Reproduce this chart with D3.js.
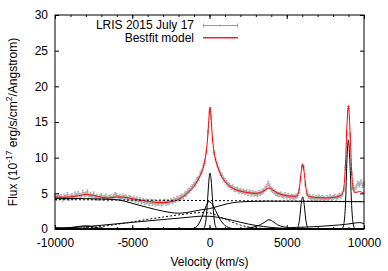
<!DOCTYPE html>
<html>
<head>
<meta charset="utf-8">
<style>
  body { margin: 0; background: #fff; }
  svg { font-family: "Liberation Sans", Arial, sans-serif; font-size: 12px; }
  .comp { fill: none; stroke: #000; stroke-width: 1; }
  .dotted { stroke-dasharray: 2,2; }
  .axis text { fill: #000; }
  .axis line { stroke: #000; }
</style>
</head>
<body>
<script src="https://cdn.jsdelivr.net/npm/d3@7"></script>
<script>
// observed spectrum, sampled every 100 km/s from -10000 km/s
var dataV0 = -10000, dataStep = 100, dataErr = 0.3;
var dataFlux = [
  4.6, 4.3, 4.7, 4.4, 4.5, 4.2, 4.6, 4.4, 4.8, 4.3,   // -10000
  4.5, 4.7, 4.4, 4.9, 4.6, 5.0, 4.7, 4.6, 5.1, 4.8,   // -9000
  4.9, 5.2, 4.6, 4.8, 4.5, 4.9, 4.4, 4.6, 4.3, 4.5,   // -8000
  4.7, 4.3, 4.4, 4.6, 4.2, 4.4, 4.5, 4.3, 4.6, 4.8,   // -7000
  4.7, 4.4, 4.6, 4.3, 4.6, 4.4, 4.5, 4.2, 4.4, 4.3,   // -6000
  4.1, 4.3, 4.0, 4.2, 3.9, 4.1, 3.8, 4.0, 3.7, 3.9,   // -5000
  3.8, 3.6, 3.9, 3.6, 3.8, 3.5, 3.7, 3.6, 3.8, 3.5,   // -4000
  3.7, 3.9, 3.6, 3.8, 3.7, 4.0, 3.8, 4.1, 4.0, 4.3,   // -3000
  4.2, 4.4, 4.6, 4.5, 4.9, 4.9, 5.3, 5.4, 5.7, 5.9,   // -2000
  6.2, 6.4, 6.9, 7.1, 7.7, 8.1, 8.9, 9.5, 10.8, 13.6, // -1000
  16.4, 15.7, 12.6, 10.7, 9.7, 9.0, 8.4, 7.8, 7.5, 7.0, // 0
  6.8, 6.5, 6.2, 6.1, 5.8, 5.9, 5.6, 5.5, 5.6, 5.3,   // 1000
  5.4, 5.2, 5.3, 5.1, 5.2, 5.0, 5.2, 4.9, 5.1, 4.9,   // 2000
  5.0, 4.8, 5.1, 5.0, 5.2, 5.3, 5.6, 5.9, 6.4, 6.0,   // 3000
  5.6, 5.4, 5.2, 5.0, 4.9, 4.8, 4.9, 4.7, 4.6, 4.8,   // 4000
  4.5, 4.7, 4.4, 4.6, 4.5, 4.4, 4.6, 4.7, 5.4, 7.0,   // 5000
  8.8, 8.6, 6.3, 5.0, 4.6, 4.5, 4.3, 4.5, 4.2, 4.4,   // 6000
  4.3, 4.5, 4.2, 4.4, 4.3, 4.1, 4.4, 4.2, 4.5, 4.3,   // 7000
  4.4, 4.6, 4.3, 4.5, 4.7, 4.6, 4.9, 5.6, 8.6, 13.4,  // 8000
  16.9, 13.2, 7.8, 5.8, 5.5, 5.9, 6.4, 6.2, 6.6, 6.1, // 9000
  6.3                                                  // 10000
];

// best-fit model [velocity, flux]
var modelCurve = [
  [-10000,4.5],[-9500,4.45],[-9000,4.5],[-8500,4.65],[-8000,4.85],[-7500,4.7],[-7000,4.45],
  [-6500,4.35],[-6000,4.5],[-5500,4.45],[-5000,4.25],[-4500,4.05],[-4000,3.88],[-3500,3.74],
  [-3000,3.7],[-2500,3.82],[-2000,4.15],[-1700,4.55],[-1400,5.1],[-1200,5.5],[-1000,6.0],
  [-800,6.7],[-600,7.5],[-450,8.3],[-300,9.6],[-200,11.0],[-100,13.4],[-30,15.8],[30,17.1],
  [100,15.6],[180,13.0],[260,11.3],[350,10.1],[460,9.2],[600,8.3],[800,7.3],[1000,6.7],
  [1300,6.0],[1600,5.6],[2000,5.3],[2500,5.1],[3000,5.0],[3300,5.1],[3600,5.45],[3850,5.75],
  [4100,5.45],[4400,5.05],[4800,4.75],[5200,4.6],[5630,4.6],[5730,4.85],[5830,5.95],[5930,7.9],
  [6030,9.1],[6130,7.9],[6230,5.95],[6330,4.85],[6430,4.55],[7000,4.4],[7500,4.35],[8000,4.42],
  [8500,4.7],[8600,4.95],[8700,5.85],[8800,9.1],[8900,14.6],[8990,17.3],[9100,13.5],[9200,8.2],
  [9300,5.6],[9400,5.1],[9700,5.25],[10000,5.0]
];

// fit components
var contSolid = [
  [-10000,4.3],[-9000,4.28],[-8000,4.25],[-7000,4.2],[-6000,4.1],[-5500,3.9],[-5000,3.6],
  [-4500,3.3],[-4000,3.02],[-3500,2.74],[-3000,2.5],[-2500,2.3],[-2000,2.22],[-1500,2.3],
  [-1000,2.5],[-500,2.7],[0,2.85],[500,3.15],[1000,3.45],[1500,3.68],[2000,3.8],[3000,3.88],
  [4000,3.9],[6000,3.88],[8000,3.85],[10000,3.82]
];
var contDotted = [[-10000,4.12],[10000,3.85]];
var broadDotted = [
  [-10000,0.02],[-9000,0.05],[-8000,0.15],[-7000,0.35],[-6000,0.65],[-5000,1.0],[-4000,1.35],
  [-3000,1.68],[-2000,1.98],[-1200,2.2],[-600,2.3],[0,2.25],[400,2.0],[800,1.6],[1200,1.2],
  [1600,0.85],[2000,0.55],[2500,0.3],[3000,0.15],[4000,0.04],[5000,0],[10000,0]
];
var broadRise = [
  [-10000,0.1],[-9000,0.18],[-8000,0.32],[-7000,0.52],[-6000,0.73],[-5000,0.93],[-4000,1.13],
  [-3000,1.33],[-2000,1.52],[-1000,1.72],[-500,1.8],[0,1.78],[500,1.65],[1000,1.45],[1500,1.2],
  [2000,0.95],[2500,0.7],[3000,0.5],[3500,0.35],[4000,0.22],[5000,0.08],[6000,0.02],[10000,0]
];
var broadCore = [
  [-10000,0],[-1400,0],[-1000,0.1],[-800,0.4],[-600,1.1],[-400,2.2],[-200,3.3],[-50,3.85],
  [100,3.7],[300,3.0],[500,2.1],[700,1.3],[900,0.7],[1100,0.35],[1400,0.1],[1700,0],[10000,0]
];
var feTemplate = [
  [-10000,0.2],[-9500,0.15],[-9000,0.2],[-8500,0.35],[-8000,0.45],[-7600,0.35],[-7200,0.15],
  [-6500,0.05],[-5000,0.02],[-2000,0],[1000,0],[2000,0.05],[2800,0.25],[3300,0.6],[3600,1.0],
  [3850,1.3],[4100,1.05],[4400,0.6],[4800,0.3],[5200,0.2],[6000,0.25],[7000,0.35],[8000,0.5],
  [8800,0.65],[9300,0.8],[9700,0.9],[10000,0.75]
];
var narrowHb = [
  [-10000,0],[-500,0],[-400,0.05],[-300,0.4],[-200,1.9],[-100,4.9],[-30,7.0],[30,7.85],
  [100,7.0],[200,4.0],[300,1.4],[400,0.3],[500,0.03],[600,0],[10000,0]
];
var narrowO3a = [
  [-10000,0],[5530,0],[5630,0.04],[5730,0.3],[5830,1.37],[5930,3.4],[6030,4.5],[6130,3.4],
  [6230,1.37],[6330,0.3],[6430,0.04],[6530,0],[10000,0]
];
var narrowO3b = [
  [-10000,0],[8500,0],[8600,0.1],[8700,0.76],[8800,3.4],[8900,9.9],[8990,12.5],[9100,8.8],
  [9200,3.3],[9300,0.7],[9400,0.1],[9500,0],[10000,0]
];

var xTicks = [-10000, -5000, 0, 5000, 10000];
var yTicks = [0, 5, 10, 15, 20, 25, 30];
var legendLabels = ["LRIS 2015 July 17", "Bestfit model"];

// layout
var margin = {top: 15, right: 24, bottom: 42, left: 55},
    width = 388 - margin.left - margin.right,
    height = 271 - margin.top - margin.bottom;

var svg = d3.select("body").append("svg")
    .attr("width", 388)
    .attr("height", 271);

var g = svg.append("g")
    .attr("transform", "translate(" + margin.left + "," + margin.top + ")");

var x = d3.scaleLinear().domain([-10000, 10000]).range([0, width]);
var y = d3.scaleLinear().domain([0, 30]).range([height, 0]);

var line = d3.line()
    .x(function(d) { return x(d[0]); })
    .y(function(d) { return y(d[1]); })
    .curve(d3.curveMonotoneX);

// data points with error bars
var data = dataFlux.map(function(f, i) { return [dataV0 + i * dataStep, f]; });
var pts = g.append("g").style("stroke", "#9a9a9a").attr("stroke-width", 0.8).attr("fill", "none");
pts.selectAll("path")
    .data(data)
    .enter().append("path")
    .attr("d", function(d) {
        var px = x(d[0]), lo = y(d[1] - dataErr), hi = y(d[1] + dataErr), py = y(d[1]);
        return "M" + px + "," + lo + "V" + hi +
               "M" + (px - 1) + "," + lo + "h2" +
               "M" + (px - 1) + "," + hi + "h2" +
               "M" + (px - 1.5) + "," + py + "h3";
    });

// model
g.append("path").datum(modelCurve)
    .attr("fill", "none").style("stroke", "#ff0000").attr("stroke-width", 1)
    .attr("d", line);

// components
[contSolid, broadRise, broadCore, feTemplate, narrowHb, narrowO3a, narrowO3b].forEach(function(c) {
    g.append("path").datum(c).attr("class", "comp").attr("d", line);
});
[contDotted, broadDotted].forEach(function(c) {
    g.append("path").datum(c).attr("class", "comp dotted").attr("d", line);
});

// axes: inward ticks on all four sides
var minorX = d3.range(-10000, 10001, 1000);
function noDomain(s) { s.select(".domain").remove(); }
g.append("g").attr("class", "axis")
    .attr("transform", "translate(0," + height + ")")
    .call(d3.axisBottom(x).tickValues(xTicks).tickSize(-4).tickPadding(9.5)
        .tickFormat(function(d) { return String(d); }))
    .call(noDomain);
g.append("g").attr("class", "axis")
    .call(d3.axisTop(x).tickValues(xTicks).tickSize(-4).tickFormat(""))
    .call(noDomain);
g.append("g").attr("class", "axis")
    .attr("transform", "translate(0," + height + ")")
    .call(d3.axisBottom(x).tickValues(minorX).tickSize(-2).tickFormat(""))
    .call(noDomain);
g.append("g").attr("class", "axis")
    .call(d3.axisTop(x).tickValues(minorX).tickSize(-2).tickFormat(""))
    .call(noDomain);
g.append("g").attr("class", "axis")
    .call(d3.axisLeft(y).tickValues(yTicks).tickSize(-4).tickPadding(7))
    .call(noDomain);
g.append("g").attr("class", "axis")
    .attr("transform", "translate(" + width + ",0)")
    .call(d3.axisRight(y).tickValues(yTicks).tickSize(-4).tickFormat(""))
    .call(noDomain);
g.selectAll(".axis text").attr("font-size", 12).attr("font-family", "Liberation Sans, Arial, sans-serif");

g.append("rect")
    .attr("width", width).attr("height", height)
    .attr("fill", "none").attr("stroke", "#000").attr("stroke-width", 1);

// axis labels
svg.append("text")
    .attr("x", margin.left + width / 2).attr("y", 266)
    .attr("text-anchor", "middle")
    .text("Velocity (km/s)");

var yl = svg.append("text")
    .attr("transform", "translate(17," + (margin.top + height / 2) + ") rotate(-90)")
    .attr("text-anchor", "middle");
yl.append("tspan").text("Flux (10");
yl.append("tspan").attr("dy", -5).attr("font-size", 8.5).text("-17");
yl.append("tspan").attr("dy", 5).text(" erg/s/cm");
yl.append("tspan").attr("dy", -5).attr("font-size", 8.5).text("2");
yl.append("tspan").attr("dy", 5).text("/Angstrom)");

// legend
var lg = svg.append("g");
lg.append("text").attr("x", 194).attr("y", 29).attr("text-anchor", "end").text(legendLabels[0]);
lg.append("text").attr("x", 194).attr("y", 41.5).attr("text-anchor", "end").text(legendLabels[1]);
lg.append("path")
    .attr("d", "M203,25.5H238M203.5,23.5V27.5M237.5,23.5V27.5M220,24.5v2")
    .style("stroke", "#9a9a9a").style("fill", "none").attr("stroke-width", 1);
lg.append("path")
    .attr("d", "M203,37.7H238")
    .style("stroke", "#ff2020").style("fill", "none").attr("stroke-width", 1.5);
</script>
</body>
</html>
